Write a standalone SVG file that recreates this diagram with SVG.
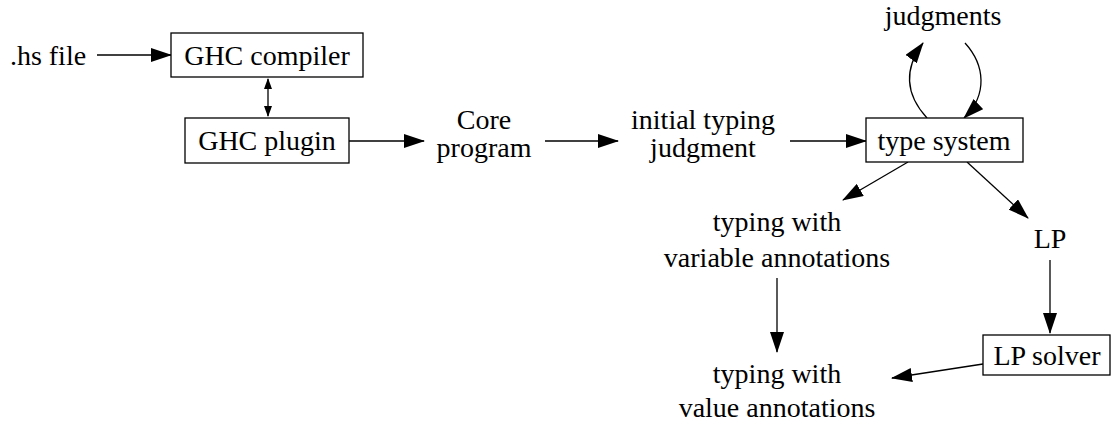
<svg xmlns="http://www.w3.org/2000/svg" width="1112" height="425" viewBox="0 0 1112 425">
<style>
.t{font-family:"Liberation Serif","Times New Roman",serif;font-size:28px;fill:#000;text-anchor:middle}
.box{fill:#fff;stroke:#000;stroke-width:1.3}
.e{fill:none;stroke:#000;stroke-width:1.3}
</style>
<defs>
<marker id="ah" markerWidth="21" markerHeight="14" refX="20" refY="7" orient="auto" markerUnits="userSpaceOnUse"><path d="M0,0 L21,7 L0,14 z" fill="#000"/></marker>
<marker id="sm" markerWidth="11" markerHeight="8" refX="10" refY="4" orient="auto-start-reverse" markerUnits="userSpaceOnUse"><path d="M0,0 L11,4 L0,8 z" fill="#000"/></marker>
</defs>
<g id="edges">
<line class="e" x1="97" y1="55" x2="171" y2="55" marker-end="url(#ah)"/>
<line class="e" x1="268" y1="79" x2="268" y2="116" marker-start="url(#sm)" marker-end="url(#sm)"/>
<line class="e" x1="349" y1="141" x2="424" y2="141" marker-end="url(#ah)"/>
<line class="e" x1="545" y1="141" x2="618" y2="141" marker-end="url(#ah)"/>
<line class="e" x1="790" y1="141" x2="866" y2="141" marker-end="url(#ah)"/>
<path class="e" d="M927,118 C906,95 903,70 923,43" marker-end="url(#ah)"/>
<path class="e" d="M965,43 C985,65 988,95 964,118" marker-end="url(#ah)"/>
<line class="e" x1="908" y1="162" x2="843" y2="200" marker-end="url(#ah)"/>
<line class="e" x1="967" y1="162" x2="1028" y2="218" marker-end="url(#ah)"/>
<line class="e" x1="1050" y1="260" x2="1050" y2="333" marker-end="url(#ah)"/>
<line class="e" x1="777" y1="278" x2="777" y2="352" marker-end="url(#ah)"/>
<line class="e" x1="983" y1="364" x2="892" y2="378" marker-end="url(#ah)"/>
</g>
<g class="t">
<g id="hs"><text x="48" y="65">.hs file</text></g>
<g id="ghc"><rect class="box" x="171" y="33" width="192" height="44"/><text x="267" y="65">GHC compiler</text></g>
<g id="plugin"><rect class="box" x="185" y="118" width="164" height="45"/><text x="267" y="150">GHC plugin</text></g>
<g id="core"><text x="484" y="129">Core</text><text x="484" y="157">program</text></g>
<g id="initial"><text x="703" y="129">initial typing</text><text x="703" y="157">judgment</text></g>
<g id="typesys"><rect class="box" x="866" y="118" width="157" height="44"/><text x="944" y="150">type system</text></g>
<g id="judgments"><text x="943" y="25">judgments</text></g>
<g id="varann"><text x="777" y="231">typing with</text><text x="777" y="267">variable annotations</text></g>
<g id="lp"><text x="1050" y="248">LP</text></g>
<g id="solver"><rect class="box" x="983" y="335" width="127" height="40"/><text x="1047" y="365">LP solver</text></g>
<g id="valann"><text x="777" y="383">typing with</text><text x="777" y="417">value annotations</text></g>
</g>
</svg>
